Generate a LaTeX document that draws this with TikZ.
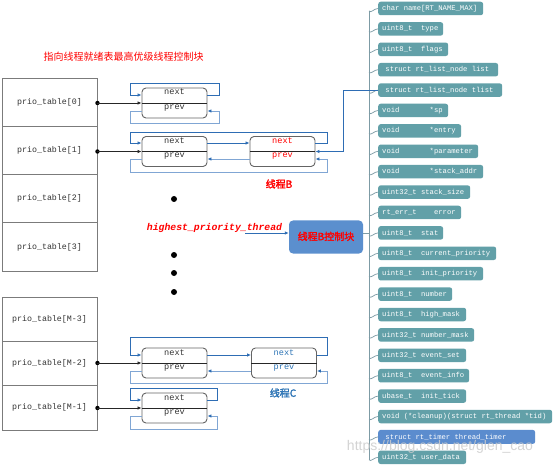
\documentclass[tikz,border=0pt]{standalone}
\usepackage{fontspec}
\setmonofont{Liberation Mono}
\newfontfamily\cjk{Noto Sans CJK SC}
\newfontfamily\cjkb[FakeBold=2]{Noto Sans CJK SC}
\newfontfamily\wmfont{Liberation Sans}
\usetikzlibrary{arrows.meta,calc}
\newcommand\sk[1]{\hspace*{#1em}}
\definecolor{fieldc}{RGB}{98,160,168}
\definecolor{timerc}{RGB}{91,140,206}
\definecolor{nextc}{RGB}{46,109,180}
\definecolor{prevc}{RGB}{128,166,212}
\definecolor{ctlc}{RGB}{91,143,206}
\definecolor{trunkc}{RGB}{125,155,165}
\definecolor{bordc}{RGB}{100,100,100}
\definecolor{lblue}{RGB}{46,117,182}
\tikzset{
  cell/.style={draw=bordc!85, line width=0.9pt, minimum width=95pt, inner sep=0pt,
    font=\ttfamily\fontsize{8.3}{10}\selectfont, text=black!80},
  lnode/.style={draw=bordc, line width=0.9pt, rounded corners=4pt, minimum width=65pt,
    minimum height=30pt, inner sep=0pt},
  ltext/.style={font=\ttfamily\fontsize{8.6}{10}\selectfont, anchor=base, inner sep=0pt, text=black!80},
  nxt/.style={draw=nextc, line width=0.9pt, -{Latex[length=4pt,width=3.5pt,color=nextc]}},
  prv/.style={draw=prevc, line width=0.9pt, -{Latex[length=4pt,width=3.5pt,color=nextc]}},
  ptr/.style={draw=black!85, line width=0.8pt, -{Latex[length=4pt,width=3.5pt]}},
  field/.style={fill=fieldc, rounded corners=2.5pt, anchor=west, minimum height=13.5pt,
    inner xsep=4pt, inner ysep=0pt, text=white, font=\ttfamily\fontsize{7.2}{8}\selectfont,
    align=left, text width=#1},
  trunk/.style={draw=trunkc, line width=0.7pt},
}
\begin{document}
\begin{tikzpicture}[x=1pt,y=-1pt]
\path[fill=white] (0,0) rectangle (554,465);
\useasboundingbox (0,0) rectangle (554,465);

% title
\node[text=red, font=\cjk\fontsize{10}{12}\selectfont] (title) at (123.5,57) {指向线程就绪表最高优级线程控制块};

% table group 1
\node[cell, minimum height=48.25pt] (t0) at (49.5,102.1) {prio\_table[0]};
\node[cell, minimum height=48.25pt] (t1) at (49.5,150.4) {prio\_table[1]};
\node[cell, minimum height=48.25pt] (t2) at (49.5,198.6) {prio\_table[2]};
\node[cell, minimum height=48.25pt] (t3) at (49.5,246.9) {prio\_table[3]};
% table group 2
\node[cell, minimum height=44.33pt] (tm3) at (49.5,319.2) {prio\_table[M-3]};
\node[cell, minimum height=44.33pt] (tm2) at (49.5,363.5) {prio\_table[M-2]};
\node[cell, minimum height=44.33pt] (tm1) at (49.5,407.8) {prio\_table[M-1]};

% list nodes
\node[lnode] (a0) at (174.5,103) {};
\node[lnode] (a1) at (174.5,151.5) {};
\node[lnode] (b) at (282.5,151.5) {};
\node[lnode] (a2) at (174.5,363) {};
\node[lnode] (c) at (284,363) {};
\node[lnode] (a3) at (174.5,408) {};
\foreach \n in {a0,a1,b,a2,c,a3} \draw[black!85, line width=0.8pt] (\n.west) -- (\n.east);

\node[ltext] (a0n) at ($(a0.center)+(0,-8)$) {next};
\node[ltext] (a0p) at ($(a0.center)+(0,6.5)$) {prev};
\node[ltext] (a1n) at ($(a1.center)+(0,-8)$) {next};
\node[ltext] (a1p) at ($(a1.center)+(0,6.5)$) {prev};
\node[ltext, text=red] (bn) at ($(b.center)+(0,-8)$) {next};
\node[ltext, text=red] (bp) at ($(b.center)+(0,6.5)$) {prev};
\node[ltext] (a2n) at ($(a2.center)+(0,-8)$) {next};
\node[ltext] (a2p) at ($(a2.center)+(0,6.5)$) {prev};
\node[ltext, text=lblue] (cn) at ($(c.center)+(0,-8)$) {next};
\node[ltext, text=lblue] (cp) at ($(c.center)+(0,6.5)$) {prev};
\node[ltext] (a3n) at ($(a3.center)+(0,-8)$) {next};
\node[ltext] (a3p) at ($(a3.center)+(0,6.5)$) {prev};

% pointers from table
\foreach \t/\n in {t0/a0,t1/a1,tm2/a2,tm1/a3}{
  \fill[black] (\n.west -| \t.east) circle (2.2pt);
  \draw[ptr] (\n.west -| \t.east) -- (\n.west);
}

% row 0 loops
\draw[nxt] (a0.east |- 0,95) -| (219,83) -| (130,95) -- (a0.west |- 0,95);
\draw[prv] (a0.west |- 0,111) -| (130,123) -| (219,111) -- (a0.east |- 0,111);

% row 1 loops
\draw[nxt] (a1.east |- 0,143) -- (b.west |- 0,143);
\draw[nxt] (b.east |- 0,143) -| (327,132) -| (130,143) -- (a1.west |- 0,143);
\draw[prv] (b.west |- 0,159) -- (a1.east |- 0,159);
\draw[prv] (a1.west |- 0,159) -| (130,172) -| (327,159) -- (b.east |- 0,159);

% row M-2 loops
\draw[nxt] (a2.east |- 0,355) -- (c.west |- 0,355);
\draw[nxt] (c.east |- 0,355) -| (327,337) -| (130,355) -- (a2.west |- 0,355);
\draw[prv] (c.west |- 0,371) -- (a2.east |- 0,371);
\draw[prv] (a2.west |- 0,371) -| (130,383) -| (327,371) -- (c.east |- 0,371);

% row M-1 loops
\draw[nxt] (a3.east |- 0,400) -| (217,388) -| (130,400) -- (a3.west |- 0,400);
\draw[prv] (a3.west |- 0,416) -| (130,429) -| (217,416) -- (a3.east |- 0,416);

% labels
\node[text=red, font=\cjkb\fontsize{10}{12}\selectfont] (lb) at (279,184) {线程B};
\node[text=lblue, font=\cjkb\fontsize{10}{12}\selectfont] (lc) at (283,393) {线程C};

% dots
\fill (174,199) circle (3pt);
\fill (174,255) circle (3pt);
\fill (174,273) circle (3pt);
\fill (174,292) circle (3pt);

% highest priority thread
\node[text=red, font=\ttfamily\bfseries\itshape\fontsize{9.8}{11}\selectfont, inner sep=0pt] (hp) at (214.5,228) {highest\_priority\_thread};
\node[fill=ctlc, rounded corners=4pt, minimum width=74pt, minimum height=33pt, inner sep=0pt,
  text=red, font=\cjkb\fontsize{10}{12}\selectfont] (ctl) at (326,237) {\raisebox{2pt}{线程B控制块}};
\coordinate (hps) at (245,233);
\draw[nextc, line width=0.8pt, -{Latex[length=4pt,width=3.5pt]}] (hps) -- (hps -| ctl.west);

% fields
\node[field=97pt] (f1) at (378,8.5) {char\sk{0.6}name[RT\_NAME\_MAX]};
\node[field=57pt] (f2) at (378,28.9) {uint8\_t\sk{1.2}type};
\node[field=62pt] (f3) at (378,49.3) {uint8\_t\sk{1.2}flags};
\node[field=112pt] (f4) at (378,69.7) {\sk{0.45}struct\sk{0.6}rt\_list\_node\sk{0.6}list};
\node[field=116pt] (f5) at (378,90.1) {\sk{0.45}struct\sk{0.6}rt\_list\_node\sk{0.6}tlist};
\node[field=62pt] (f6) at (378,110.5) {void\sk{4.2}*sp};
\node[field=75pt] (f7) at (378,130.9) {void\sk{4.2}*entry};
\node[field=92pt] (f8) at (378,151.3) {void\sk{4.2}*parameter};
\node[field=97pt] (f9) at (378,171.7) {void\sk{4.2}*stack\_addr};
\node[field=84pt] (f10) at (378,192.1) {uint32\_t\sk{0.6}stack\_size};
\node[field=75pt] (f11) at (378,212.5) {rt\_err\_t\sk{2.4}error};
\node[field=57pt] (f12) at (378,232.9) {uint8\_t\sk{1.2}stat};
\node[field=110pt] (f13) at (378,253.3) {uint8\_t\sk{1.2}current\_priority};
\node[field=97pt] (f14) at (378,273.7) {uint8\_t\sk{1.2}init\_priority};
\node[field=66pt] (f15) at (378,294.1) {uint8\_t\sk{1.2}number};
\node[field=80pt] (f16) at (378,314.5) {uint8\_t\sk{1.2}high\_mask};
\node[field=88pt] (f17) at (378,334.9) {uint32\_t\sk{0.6}number\_mask};
\node[field=80pt] (f18) at (378,355.3) {uint32\_t\sk{0.6}event\_set};
\node[field=83pt] (f19) at (378,375.7) {uint8\_t\sk{1.2}event\_info};
\node[field=80pt] (f20) at (378,396.1) {ubase\_t\sk{1.2}init\_tick};
\node[field=166pt] (f21) at (378,416.5) {void\sk{0.6}(*cleanup)(struct\sk{0.6}rt\_thread\sk{0.6}*tid)};
\node[field=149pt, fill=timerc, minimum height=14pt] (f22) at (378,436.9) {\sk{0.45}struct\sk{0.6}rt\_timer\sk{0.6}thread\_timer};
\node[field=80pt] (f23) at (378,457.3) {uint32\_t\sk{0.6}user\_data};

% trunk
\coordinate (tkTop) at (369,11);
\coordinate (tkBot) at (369,460);
\draw[trunk] (tkTop) -- (tkBot);
\foreach \i in {1,...,23}
  \draw[trunk] ([yshift=-2.5pt]f\i.west -| tkTop) .. controls +(2,2.5) and +(-4,0) .. (f\i.west);
\draw[trunk] (ctl.east |- hps) -- (hps -| tkTop);

% tlist connector
\draw[nxt] (f5.west) -| (343,151.5) -- (b.east);

% watermark
\node[text=gray!40, opacity=0.85, font=\wmfont\fontsize{14}{16}\selectfont, inner sep=0pt] (wm) at (440,447) {https://blog.csdn.net/glen\_cao};
\end{tikzpicture}
\end{document}
